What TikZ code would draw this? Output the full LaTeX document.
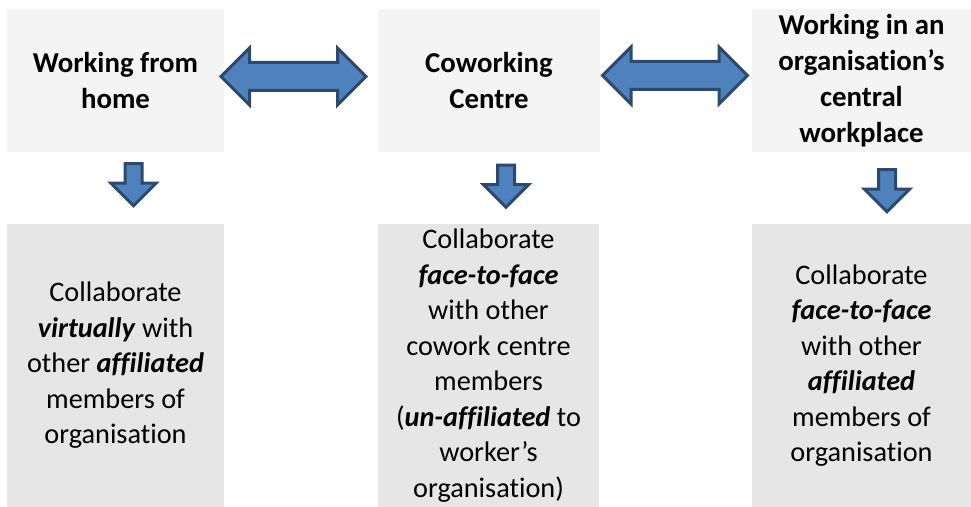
\documentclass[tikz,border=0pt]{standalone}
\usepackage{fontspec}
\setmainfont{Carlito}[Ligatures=NoCommon]
\usetikzlibrary{shapes.arrows}
\definecolor{arrowfill}{HTML}{4F81BD}
\definecolor{arrowline}{HTML}{2C4A6E}
\definecolor{placegrey}{HTML}{F4F4F4}
\definecolor{resultgrey}{HTML}{E6E6E6}
\tikzstyle{place}=[fill=placegrey, align=center, minimum height=143bp,
    inner sep=0pt, font=\fontsize{28.8bp}{36bp}\selectfont\bfseries]
\tikzstyle{result}=[fill=resultgrey, align=center, minimum height=283bp,
    inner sep=0pt, font=\fontsize{28.3bp}{35.5bp}\selectfont]
\tikzstyle{link}=[double arrow, fill=arrowfill, draw=arrowline, line width=3bp,
    inner xsep=0pt, inner ysep=12.5bp, double arrow head extend=14.5bp,
    minimum height=145bp]
\tikzstyle{down}=[single arrow, fill=arrowfill, draw=arrowline, line width=3bp,
    inner xsep=0pt, inner ysep=7bp, single arrow head extend=14bp,
    minimum height=42bp, rotate=-90]
\newcommand{\bfit}[1]{\textbf{\textit{#1}}}

\begin{document}
\begin{tikzpicture}[x=1bp,y=-1bp]
  \useasboundingbox (0,0) rectangle (971,507);

  % where the work is done
  \node[minimum width=217bp] at (115.5, 80.5) (home)[place] {Working from\\home};
  \node[minimum width=222bp] at (489, 80.5) (centre)[place] {Coworking\\Centre};
  \node[minimum width=219bp] at (861.5, 80.5) (office)[place] {Working in an\\organisation's\\central\\workplace};

  \node at (293.5, 76.5) (homecentre)[link] {};
  \node at (675, 75.5) (centreoffice)[link] {};

  \node at (133.5, 180.5) (homedown)[down] {};
  \node at (506, 182) (centredown)[down] {};
  \node at (887, 186.5) (officedown)[down] {};

  % who one collaborates with
  \node[minimum width=217bp] at (115.5, 365.5) (homework)[result]
    {Collaborate\\\bfit{virtually} with\\other \bfit{affiliated}\\members of\\organisation};
  \node[minimum width=221bp] at (488.5, 365.5) (centrework)[result]
    {Collaborate\\\bfit{face-to-face}\\with other\\cowork centre\\members\\(\bfit{un-affiliated} to\\worker's\\organisation)};
  \node[minimum width=219bp] at (861.5, 365.5) (officework)[result]
    {Collaborate\\\bfit{face-to-face}\\with other\\\bfit{affiliated}\\members of\\organisation};
\end{tikzpicture}
\end{document}
